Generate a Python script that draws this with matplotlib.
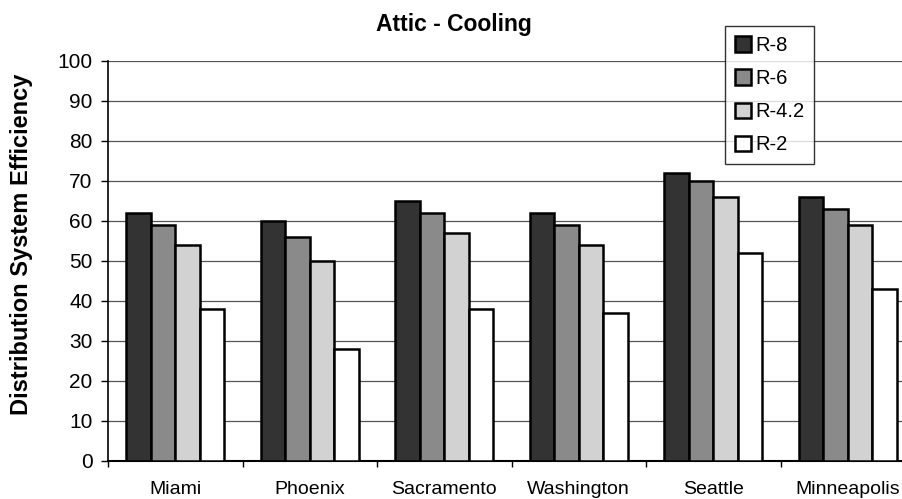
import matplotlib
matplotlib.use("Agg")
import matplotlib.pyplot as plt
import numpy as np
from matplotlib.ticker import FixedLocator

plt.rcParams['font.family'] = ['Liberation Sans', 'DejaVu Sans']

cities = ["Miami", "Phoenix", "Sacramento", "Washington", "Seattle", "Minneapolis"]
series_names = ["R-8", "R-6", "R-4.2", "R-2"]
r8 = [62, 60, 65, 62, 72, 66]
r6 = [59, 56, 62, 59, 70, 63]
r42 = [54, 50, 57, 54, 66, 59]
r2 = [38, 28, 38, 37, 52, 43]
series = [r8, r6, r42, r2]
colors = ["#333333", "#8a8a8a", "#d2d2d2", "#ffffff"]
yticks = list(range(0, 101, 10))

W, H = 903, 499
fig = plt.figure(figsize=(W / 100, H / 100), dpi=100)
ax = fig.add_axes([108 / W, 1 - 461 / H, 807 / W, 400 / H])

x = np.arange(len(cities))
bw = 0.182
for i, (vals, c, name) in enumerate(zip(series, colors, series_names)):
    ax.bar(x + (i - 1.5) * bw, vals, width=bw, color=c, edgecolor="black",
           linewidth=1.8, label=name, zorder=3)

ax.set_xlim(-0.5, len(cities) - 0.5)
ax.set_ylim(0, 100)
ax.set_yticks(yticks)
ax.set_xticks(x)
ax.set_xticklabels(cities, fontsize=14)
ax.xaxis.set_minor_locator(FixedLocator(np.arange(-0.5, len(cities), 1.0)))
ax.tick_params(axis='x', which='major', length=0, pad=14.5)
ax.tick_params(axis='x', which='minor', length=4, width=1, direction='out')
ax.tick_params(axis='y', labelsize=15, length=5, width=1, direction='out', pad=6)
ax.yaxis.grid(True, color="#555555", linewidth=0.9, zorder=0)
ax.set_axisbelow(True)
for s in ["top", "right"]:
    ax.spines[s].set_visible(False)
ax.spines["left"].set_linewidth(1.2)
ax.spines["bottom"].set_linewidth(1.5)

fig.text(22 / W, 1 - 244 / H, "Distribution System Efficiency", rotation=90,
         fontsize=17, fontweight="bold", ha="center", va="center")
fig.text(454 / W, 1 - 25 / H, "Attic - Cooling", fontsize=16.5,
         fontweight="bold", ha="center", va="center")

leg = fig.legend(loc="upper left", bbox_to_anchor=(725 / W, 1 - 26 / H),
                 fontsize=14.5, frameon=True, fancybox=False, shadow=False,
                 handlelength=0.8, handleheight=0.8, handletextpad=0.2,
                 labelspacing=0.7, borderpad=0.5, borderaxespad=0)
leg.get_frame().set_edgecolor("black")
leg.get_frame().set_linewidth(1.0)

fig.savefig("out.png", dpi=100)
